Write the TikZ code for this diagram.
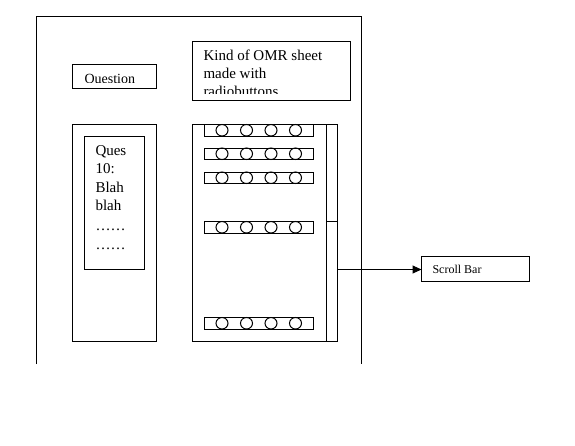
\documentclass[tikz,border=0pt]{standalone}
\usepackage{fontspec}
\setmainfont{Liberation Serif}
\usetikzlibrary{arrows.meta,shapes.geometric}
\begin{document}
\begin{tikzpicture}[x=1pt,y=-1pt,line width=1pt,
  box/.style={draw,rectangle,inner sep=0pt,outer sep=0pt,anchor=north west},
  radio/.style={draw,ellipse,inner sep=0pt,outer sep=0pt,minimum width=12pt,minimum height=11.5pt},
  txt/.style={anchor=base west,inner sep=0pt,font=\fontsize{15}{18}\selectfont}]
\useasboundingbox (0,0) rectangle (575,445);
% outer frame, open at the bottom
\coordinate (fbl) at (36.5,364);
\coordinate (ftl) at (36.5,16.5);
\coordinate (ftr) at (361.5,16.5);
\coordinate (fbr) at (361.5,364);
\draw (fbl) -- (ftl) -- (ftr) -- (fbr);
% Question label box
\node[box,minimum width=84pt,minimum height=24pt] (qbox) at (72.5,64.5) {};
\begin{scope}
\clip (73,65) rectangle (156,82.3);
\node[txt,font=\fontsize{14}{17}\selectfont] (qtxt) at (84,83.2) {Question};
\end{scope}
% OMR description box
\node[box,minimum width=157.5pt,minimum height=59pt] (obox) at (192.5,41) {};
\begin{scope}
\clip (193,41.5) rectangle (349,93.5);
\node[txt] (o1) at (203,60.5) {Kind of OMR sheet};
\node[txt] (o2) at (203,78.5) {made with};
\node[txt] (o3) at (203,96.8) {radiobuttons};
\end{scope}
% left panel
\node[box,minimum width=84pt,minimum height=217pt] (lpanel) at (72.5,124.5) {};
\node[box,minimum width=60pt,minimum height=133pt] (qinner) at (84.5,136.5) {};
\node[txt] (l1) at (95,155) {Ques};
\node[txt] (l2) at (95,173.5) {10:};
\node[txt] (l3) at (95,192) {Blah};
\node[txt] (l4) at (95,210.5) {blah};
\node[txt] (l5) at (95,230.5) {\dots\dots};
\node[txt] (l6) at (95,249.5) {\dots\dots};
% right panel
\node[box,minimum width=144.5pt,minimum height=217pt] (rpanel) at (192.5,124.5) {};
\node[box,minimum width=11pt,minimum height=217pt] (sbar) at (326,124.5) {};
\node[box,minimum width=11pt,minimum height=96.5pt] (thumb) at (326,124.5) {};
% radio rows
\foreach \i/\y in {1/124.5,2/148,3/172,4/221.5,5/317.5}{
  \node[box,minimum width=109pt,minimum height=11.5pt] (row\i) at (204.5,\y) {};
  \foreach \j/\x in {1/222,2/246.5,3/271,4/295.5}{
    \node[radio] (r\i\j) at (\x,\y+5.75) {};
  }
}
% scroll bar label and arrow
\node[draw,rectangle,inner sep=0pt,outer sep=0pt,anchor=west,minimum width=108pt,minimum height=25pt] (sblabel) at (421.5,268.5) {};
\node[txt,font=\fontsize{12}{14}\selectfont] (sbtxt) at (432,273) {Scroll Bar};
\coordinate (astart) at (337,269.5);
\draw[-{Triangle[length=9pt,width=8pt]}] (astart) -- (astart -| sblabel.west);
\end{tikzpicture}
\end{document}
